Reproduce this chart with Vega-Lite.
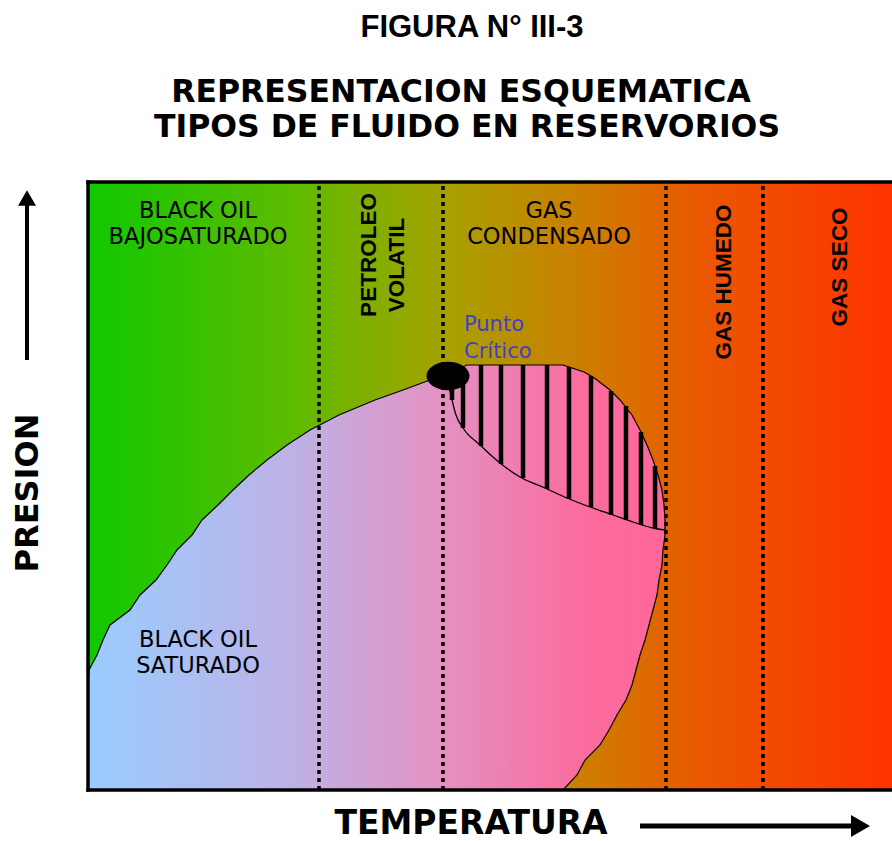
{
  "$schema": "https://vega.github.io/schema/vega-lite/v6.json",
  "width": 804,
  "height": 608,
  "autosize": {"type": "none"},
  "padding": {"left": 88, "top": 182, "right": 0, "bottom": 51},
  "background": "white",
  "config": {"view": {"stroke": null}},
  "datasets": {
    "bg": [{"zone": "plot", "T": 0, "T2": 804, "P": 0, "P2": 608}],
    "envelope": [
      {"P": 0, "T": 0, "T2": 475},
      {"P": 15, "T": 0, "T2": 489},
      {"P": 30, "T": 0, "T2": 497},
      {"P": 45, "T": 0, "T2": 512},
      {"P": 60, "T": 0, "T2": 521},
      {"P": 75, "T": 0, "T2": 529},
      {"P": 90, "T": 0, "T2": 538},
      {"P": 105, "T": 0, "T2": 544},
      {"P": 120, "T": 1, "T2": 548},
      {"P": 135, "T": 9, "T2": 552},
      {"P": 150, "T": 15, "T2": 557},
      {"P": 165, "T": 22, "T2": 561},
      {"P": 180, "T": 42, "T2": 565},
      {"P": 195, "T": 52, "T2": 569},
      {"P": 210, "T": 68, "T2": 571},
      {"P": 225, "T": 79, "T2": 574},
      {"P": 240, "T": 89, "T2": 575},
      {"P": 255, "T": 104, "T2": 577},
      {"P": 270, "T": 114, "T2": 577},
      {"P": 285, "T": 130, "T2": 576},
      {"P": 300, "T": 145, "T2": 574},
      {"P": 315, "T": 161, "T2": 570},
      {"P": 330, "T": 179, "T2": 565},
      {"P": 345, "T": 199, "T2": 559},
      {"P": 360, "T": 222, "T2": 552},
      {"P": 375, "T": 251, "T2": 544},
      {"P": 390, "T": 287, "T2": 532},
      {"P": 400, "T": 315, "T2": 522},
      {"P": 410, "T": 342, "T2": 509},
      {"P": 414, "T": 359, "T2": 503},
      {"P": 418, "T": 364, "T2": 496},
      {"P": 422, "T": 372, "T2": 484},
      {"P": 425, "T": 379, "T2": 475}
    ],
    "quality": [
      {"T": 359, "P": 414},
      {"T": 361, "P": 404},
      {"T": 364, "P": 390},
      {"T": 368, "P": 375},
      {"T": 375, "P": 362},
      {"T": 392, "P": 345},
      {"T": 412, "P": 327},
      {"T": 432, "P": 313},
      {"T": 457, "P": 302},
      {"T": 479, "P": 292},
      {"T": 502, "P": 283},
      {"T": 525, "P": 275},
      {"T": 545, "P": 268},
      {"T": 565, "P": 262},
      {"T": 577, "P": 260}
    ],
    "hatch": [
      {"T": 364, "P": 390, "P2": 418},
      {"T": 375, "P": 362, "P2": 423},
      {"T": 393, "P": 344, "P2": 425},
      {"T": 413, "P": 326, "P2": 425},
      {"T": 435, "P": 312, "P2": 425},
      {"T": 459, "P": 301, "P2": 425},
      {"T": 481, "P": 291, "P2": 423},
      {"T": 503, "P": 283, "P2": 414},
      {"T": 523, "P": 275, "P2": 399},
      {"T": 538, "P": 270, "P2": 384},
      {"T": 553, "P": 265, "P2": 358},
      {"T": 567, "P": 262, "P2": 324}
    ],
    "dividers": [
      {"T": 231, "P": 0, "P2": 608},
      {"T": 355, "P": 0, "P2": 608},
      {"T": 578, "P": 0, "P2": 608},
      {"T": 675, "P": 0, "P2": 608}
    ],
    "critical": [{"label": "Punto Crítico", "T": 360, "P": 414}],
    "frameH": [
      {"edge": "top", "T": 0, "T2": 804, "P": 608},
      {"edge": "bottom", "T": 0, "T2": 804, "P": 0}
    ],
    "frameV": [{"edge": "left", "T": 0, "P": 0, "P2": 608}],
    "arrowH": [{"axis": "TEMPERATURA", "T": 552, "T2": 765, "P": -36}],
    "arrowHHead": [{"axis": "TEMPERATURA", "T": 772.5, "P": -36}],
    "arrowV": [{"axis": "PRESION", "T": -61, "P": 430, "P2": 586}],
    "arrowVHead": [{"axis": "PRESION", "T": -61, "P": 592}],
    "titleMain": [{"label": "FIGURA N° III-3", "T": 384, "P": 762}],
    "titleSub": [
      {"label": "REPRESENTACION ESQUEMATICA", "T": 373, "P": 697},
      {"label": "TIPOS DE FLUIDO EN RESERVORIOS", "T": 379, "P": 662}
    ],
    "axisX": [{"label": "TEMPERATURA", "T": 383, "P": -34}],
    "axisY": [{"label": "PRESION", "T": -60, "P": 297}],
    "zonesH": [
      {"label": "BLACK OIL", "T": 110, "P": 579},
      {"label": "BAJOSATURADO", "T": 110, "P": 553},
      {"label": "GAS", "T": 461, "P": 579},
      {"label": "CONDENSADO", "T": 461, "P": 553},
      {"label": "BLACK OIL", "T": 110, "P": 150},
      {"label": "SATURADO", "T": 110, "P": 124}
    ],
    "zonesV": [
      {"label": "PETROLEO", "T": 281, "P": 535},
      {"label": "VOLATIL", "T": 309, "P": 525},
      {"label": "GAS HUMEDO", "T": 636, "P": 508},
      {"label": "GAS SECO", "T": 752, "P": 523}
    ],
    "punto": [
      {"label": "Punto", "T": 376, "P": 465},
      {"label": "Crítico", "T": 376, "P": 438}
    ]
  },
  "encoding": {
    "x": {"field": "T", "type": "quantitative", "scale": {"domain": [0, 804], "nice": false, "zero": false}, "axis": null},
    "y": {"field": "P", "type": "quantitative", "scale": {"domain": [0, 608], "nice": false, "zero": false}, "axis": null}
  },
  "layer": [
    {
      "data": {"name": "bg"},
      "mark": {"type": "rect", "fill": {"gradient": "linear", "x1": 0, "y1": 0, "x2": 1, "y2": 0, "stops": [
        {"offset": 0, "color": "#10c800"},
        {"offset": 0.26, "color": "#5fbb00"},
        {"offset": 0.45, "color": "#a8a000"},
        {"offset": 0.64, "color": "#d27800"},
        {"offset": 0.76, "color": "#ea5800"},
        {"offset": 1, "color": "#ff3300"}
      ]}},
      "encoding": {"x2": {"field": "T2"}, "y2": {"field": "P2"}}
    },
    {
      "data": {"name": "envelope"},
      "mark": {"type": "area", "orient": "horizontal", "stroke": "black", "strokeWidth": 1.2, "fill": {"gradient": "linear", "x1": 0, "y1": 0, "x2": 1, "y2": 0, "stops": [
        {"offset": 0, "color": "#99ccff"},
        {"offset": 0.35, "color": "#bdb2e6"},
        {"offset": 0.6, "color": "#e293c4"},
        {"offset": 0.85, "color": "#fb6c9f"},
        {"offset": 1, "color": "#ff6699"}
      ]}},
      "encoding": {"x2": {"field": "T2"}}
    },
    {
      "data": {"name": "hatch"},
      "mark": {"type": "rule", "color": "black", "strokeWidth": 4.5, "strokeCap": "butt"},
      "encoding": {"y2": {"field": "P2"}}
    },
    {
      "data": {"name": "quality"},
      "mark": {"type": "line", "color": "black", "strokeWidth": 1.3, "interpolate": "monotone"},
      "encoding": {}
    },
    {
      "data": {"name": "dividers"},
      "mark": {"type": "rule", "color": "black", "strokeWidth": 3.5, "strokeDash": [4, 4], "strokeCap": "butt"},
      "encoding": {"y2": {"field": "P2"}}
    },
    {
      "data": {"name": "critical"},
      "mark": {"type": "point", "filled": true, "opacity": 1, "color": "black", "size": 1849, "shape": "M -1 0 A 1 0.66 0 1 1 1 0 A 1 0.66 0 1 1 -1 0 Z"},
      "encoding": {}
    },
    {
      "data": {"name": "frameH"},
      "mark": {"type": "rule", "color": "black", "strokeWidth": 3.5, "strokeCap": "square"},
      "encoding": {"x2": {"field": "T2"}}
    },
    {
      "data": {"name": "frameV"},
      "mark": {"type": "rule", "color": "black", "strokeWidth": 3.5, "strokeCap": "square"},
      "encoding": {"y2": {"field": "P2"}}
    },
    {
      "data": {"name": "arrowH"},
      "mark": {"type": "rule", "color": "black", "strokeWidth": 5, "strokeCap": "butt"},
      "encoding": {"x2": {"field": "T2"}}
    },
    {
      "data": {"name": "arrowHHead"},
      "mark": {"type": "point", "shape": "triangle-right", "filled": true, "opacity": 1, "color": "black", "size": 484},
      "encoding": {}
    },
    {
      "data": {"name": "arrowV"},
      "mark": {"type": "rule", "color": "black", "strokeWidth": 4, "strokeCap": "butt"},
      "encoding": {"y2": {"field": "P2"}}
    },
    {
      "data": {"name": "arrowVHead"},
      "mark": {"type": "point", "shape": "triangle-up", "filled": true, "opacity": 1, "color": "black", "size": 324},
      "encoding": {}
    },
    {
      "data": {"name": "titleMain"},
      "mark": {"type": "text", "font": "Liberation Sans", "fontWeight": "bold", "fontSize": 31, "color": "black", "align": "center", "baseline": "middle"},
      "encoding": {"text": {"field": "label"}}
    },
    {
      "data": {"name": "titleSub"},
      "mark": {"type": "text", "font": "DejaVu Sans", "fontWeight": "bold", "fontSize": 31.5, "color": "black", "align": "center", "baseline": "middle"},
      "encoding": {"text": {"field": "label"}}
    },
    {
      "data": {"name": "axisX"},
      "mark": {"type": "text", "font": "DejaVu Sans", "fontWeight": "bold", "fontSize": 33, "color": "black", "align": "center", "baseline": "middle"},
      "encoding": {"text": {"field": "label"}}
    },
    {
      "data": {"name": "axisY"},
      "mark": {"type": "text", "font": "DejaVu Sans", "fontWeight": "bold", "fontSize": 32, "color": "black", "align": "center", "baseline": "middle", "angle": 270},
      "encoding": {"text": {"field": "label"}}
    },
    {
      "data": {"name": "zonesH"},
      "mark": {"type": "text", "font": "DejaVu Sans", "fontSize": 22.5, "color": "black", "align": "center", "baseline": "middle"},
      "encoding": {"text": {"field": "label"}}
    },
    {
      "data": {"name": "zonesV"},
      "mark": {"type": "text", "font": "Liberation Sans", "fontWeight": "bold", "fontSize": 22.5, "color": "black", "align": "center", "baseline": "middle", "angle": 270},
      "encoding": {"text": {"field": "label"}}
    },
    {
      "data": {"name": "punto"},
      "mark": {"type": "text", "font": "DejaVu Sans", "fontSize": 21, "color": "#4040c8", "align": "left", "baseline": "middle"},
      "encoding": {"text": {"field": "label"}}
    }
  ]
}
